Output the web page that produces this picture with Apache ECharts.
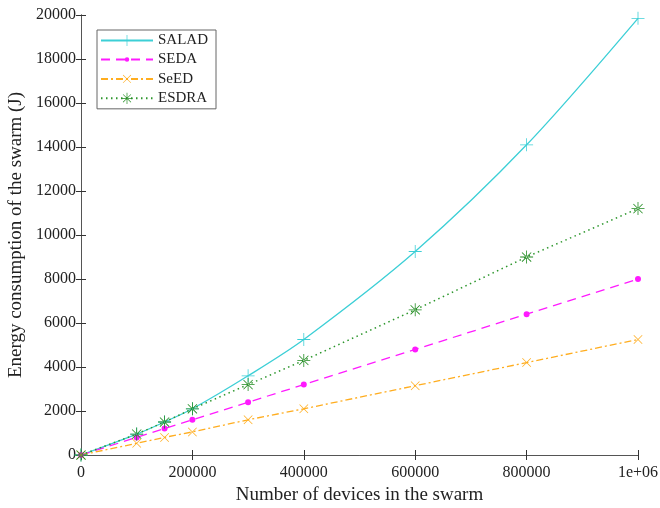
<!DOCTYPE html>
<html lang="en">
<head>
    <meta charset="UTF-8">
    <title>Energy consumption of the swarm</title>
    <style>
        body{
            margin: 0;
            background-color: #fff;
        }
        #main{
            width: 660px;
            height: 508px;
        }
    </style>
    <script src="https://cdn.jsdelivr.net/npm/echarts@6/dist/echarts.min.js"></script>
</head>
<body>
<div id="main"></div>
<script type="text/javascript">
    // 数据
    var devices = [0, 100000, 150000, 200000, 300000, 400000, 600000, 800000, 1000000];
    var salad = [0, 950, 1500, 2100, 3600, 5250, 9250, 14100, 19850];
    var seda  = [0, 800, 1200, 1600, 2400, 3200, 4800, 6400, 8000];
    var seed  = [0, 530, 800, 1050, 1600, 2100, 3150, 4200, 5250];
    var esdra = [0, 950, 1500, 2100, 3200, 4300, 6600, 9000, 11200];
    var names = ['SALAD', 'SEDA', 'SeED', 'ESDRA'];

    var font = 'Liberation Serif';

    // 标记形状（20x20 的框）
    var plusPath = 'path://M-0.6,-10L0.6,-10L0.6,10L-0.6,10Z M-10,-0.6L10,-0.6L10,0.6L-10,0.6Z';
    var starPath = 'path://M-0.6,-10L0.6,-10L0.6,10L-0.6,10Z M-10,-0.6L10,-0.6L10,0.6L-10,0.6Z ' +
        'M-7.5,-6.65L6.65,7.5L7.5,6.65L-6.65,-7.5Z M-6.65,7.5L7.5,-6.65L6.65,-7.5L-7.5,6.65Z';
    // 小圆点，四角放极小的点撑开框
    var dotPath = 'path://M-4,0A4,4 0 1,0 4,0A4,4 0 1,0 -4,0Z ' +
        'M-10,-10L-9.99,-10L-9.99,-9.99Z M10,10L9.99,10L9.99,9.99Z';

    function pairs(ys){
        var out = [];
        for(var i = 0; i < devices.length; i++){
            out.push([devices[i], ys[i]]);
        }
        return out;
    }

    var myChart = echarts.init(document.getElementById('main'));

    var axisLine = {show: true, lineStyle: {color: '#555', width: 1}};
    var tick = {show: true, inside: true, length: 5, lineStyle: {color: '#333'}};
    var label = {color: '#222', fontFamily: font, fontSize: 16};
    var nameStyle = {fontFamily: font, fontSize: 19, color: '#222'};

    var option = {
        animation: false,
        grid: {
            left: 81,
            right: 22,
            top: 15,
            bottom: 53,
            outerBoundsMode: 'none'
        },
        legend: {
            orient: 'vertical',
            left: 97,
            top: 30,
            padding: [3, 8, 3, 3],
            itemGap: 4,
            itemWidth: 52,
            itemHeight: 14,
            backgroundColor: '#fff',
            borderColor: '#666',
            borderWidth: 1,
            textStyle: {fontFamily: font, fontSize: 15, color: '#222'},
            data: names
        },
        xAxis: [{
            type: 'value',
            min: 0,
            max: 1000000,
            interval: 200000,
            name: 'Number of devices in the swarm',
            nameLocation: 'middle',
            nameGap: 30,
            nameTextStyle: nameStyle,
            axisLine: axisLine,
            axisTick: tick,
            splitLine: {show: false},
            axisLabel: Object.assign({
                margin: 10,
                formatter: function(v){ return v === 1000000 ? '1e+06' : String(v); }
            }, label)
        }, {
            type: 'value',
            position: 'top',
            min: 0,
            max: 1000000,
            interval: 200000,
            axisLine: axisLine,
            axisTick: tick,
            axisLabel: {show: false},
            splitLine: {show: false}
        }],
        yAxis: [{
            type: 'value',
            min: 0,
            max: 20000,
            interval: 2000,
            name: 'Energy consumption of the swarm (J)',
            nameLocation: 'middle',
            nameGap: 55,
            nameTextStyle: nameStyle,
            axisLine: axisLine,
            axisTick: tick,
            splitLine: {show: false},
            axisLabel: Object.assign({
                margin: 5,
                formatter: function(v){ return String(v); }
            }, label)
        }, {
            type: 'value',
            position: 'right',
            min: 0,
            max: 20000,
            interval: 2000,
            axisLine: axisLine,
            axisTick: tick,
            axisLabel: {show: false},
            splitLine: {show: false}
        }],
        series: [{
            name: 'SALAD',
            type: 'line',
            smooth: 0.3,
            clip: false,
            data: pairs(salad),
            symbol: plusPath,
            symbolSize: 13,
            itemStyle: {color: '#3ccfd6'},
            lineStyle: {color: '#3ccfd6', width: 1.3}
        }, {
            name: 'SEDA',
            type: 'line',
            clip: false,
            data: pairs(seda),
            symbol: dotPath,
            symbolSize: 15,
            itemStyle: {color: '#ff1aff', borderWidth: 0},
            lineStyle: {color: '#ff1aff', width: 1.3, type: [9, 6]}
        }, {
            name: 'SeED',
            type: 'line',
            clip: false,
            data: pairs(seed),
            symbol: plusPath,
            symbolRotate: 45,
            symbolSize: 12,
            itemStyle: {color: '#ffad1f'},
            lineStyle: {color: '#ffad1f', width: 1.3, type: [7, 3, 2, 3]}
        }, {
            name: 'ESDRA',
            type: 'line',
            clip: false,
            data: pairs(esdra),
            symbol: starPath,
            symbolSize: 13,
            itemStyle: {color: '#1f8a1f'},
            lineStyle: {color: '#2c962c', width: 1.5, type: [1.5, 3.5]}
        }]
    };

    myChart.setOption(option);
</script>
</body>
</html>
